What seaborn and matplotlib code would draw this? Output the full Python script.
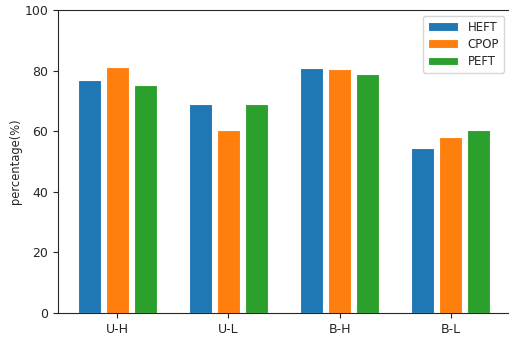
import matplotlib
matplotlib.use("Agg")
import matplotlib.pyplot as plt
import seaborn as sns
import pandas as pd

categories = ["U-H", "U-L", "B-H", "B-L"]
algorithms = ["HEFT", "CPOP", "PEFT"]
heft = [76.8, 69.1, 80.7, 54.4]
cpop = [81.1, 60.4, 80.5, 58.1]
peft = [75.1, 68.9, 78.9, 60.3]
colors = ["#1f77b4", "#ff7f0e", "#2ca02c"]

rows = []
for alg, vals in zip(algorithms, [heft, cpop, peft]):
    for cat, v in zip(categories, vals):
        rows.append({"workload": cat, "algorithm": alg, "value": v})
df = pd.DataFrame(rows)

sns.set_style("ticks")
plt.rcParams["font.family"] = ["DejaVu Sans"]

fig = plt.figure(figsize=(5.09, 3.38), dpi=100)
ax = fig.add_axes([58 / 509, 25 / 338, 452 / 509, 303 / 338])

sns.barplot(data=df, x="workload", y="value", hue="algorithm",
            order=categories, hue_order=algorithms, palette=colors,
            width=0.76, gap=0.18, edgecolor="white", linewidth=0.8,
            saturation=1, ax=ax)

ax.set_xlim(-0.535, 3.535)
ax.set_ylim(0, 100)
ax.set_xlabel("")
ax.set_ylabel("percentage(%)", fontsize=8.3, labelpad=2)
ax.tick_params(labelsize=9)
for s in ax.spines.values():
    s.set_visible(True)
    s.set_linewidth(0.8)
ax.legend(loc="upper right", fontsize=8.5, title=None,
          handlelength=2.6, labelspacing=0.35, borderaxespad=0.5)

fig.savefig("out.png", dpi=100)
